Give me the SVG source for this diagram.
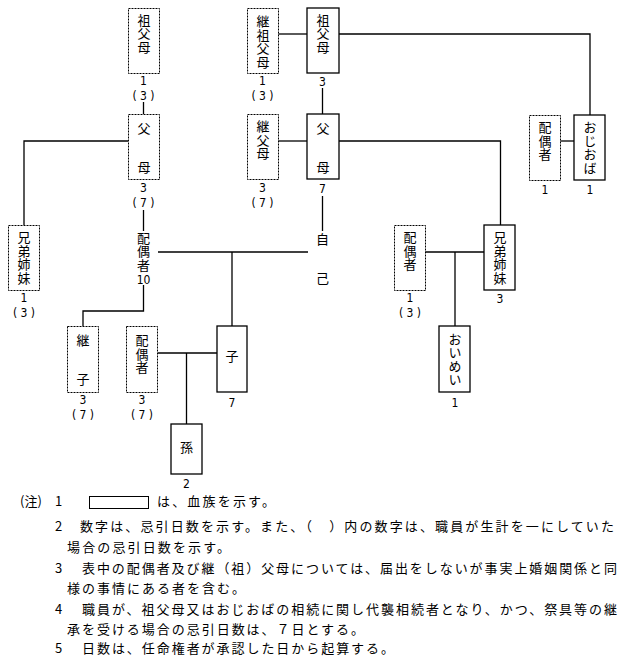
<svg xmlns="http://www.w3.org/2000/svg" width="624" height="662" viewBox="0 0 624 662">
<style>
text{font-family:"Noto Sans CJK JP","Noto Sans CJK SC",sans-serif;font-size:13px;fill:#000}
.v{writing-mode:vertical-rl;letter-spacing:0.5px}
.v0{writing-mode:vertical-rl;letter-spacing:0}
.c{text-anchor:middle}
.n{font-size:12px;font-family:"DejaVu Sans Condensed","Liberation Sans Narrow","Liberation Sans",sans-serif}
.box{fill:#fff;stroke:#000;stroke-width:1.3}
.dot{fill:#fff;stroke:#000;stroke-width:1;stroke-dasharray:2 1}
.ln{fill:none;stroke:#000;stroke-width:1.3}
</style>
<rect width="624" height="662" fill="#fff"/>
<g id="connectors">
<path class="ln" d="M143.5,102V114"/>
<path class="ln" d="M143.5,210V231"/>
<path class="ln" d="M128,141H24V225"/>
<path class="ln" d="M143.5,285V311H83V326"/>
<path class="ln" d="M158,252H308"/>
<path class="ln" d="M232,252V326"/>
<path class="ln" d="M322.5,196V231"/>
<path class="ln" d="M278,34H307"/>
<path class="ln" d="M322.5,88V114"/>
<path class="ln" d="M278,141H307"/>
<path class="ln" d="M339,141H500.5V225"/>
<path class="ln" d="M339,34H590V115"/>
<path class="ln" d="M560,141H574"/>
<path class="ln" d="M425,252H484"/>
<path class="ln" d="M455,252V326"/>
<path class="ln" d="M158,353H217"/>
<path class="ln" d="M186.5,353V424"/>
</g>
<g id="sofubo">
<rect class="dot" x="128.5" y="8.5" width="31" height="65"/>
<text class="v" x="144" y="13.5">祖父母</text>
<text class="c n" x="143.5" y="85">1</text>
<text class="c n" x="143.5" y="99.5">( 3 )</text>
</g>
<g id="fubo">
<rect class="dot" x="128.5" y="114.5" width="31" height="65"/>
<text class="v0" x="144" y="121.5">父　　母</text>
<text class="c n" x="143.5" y="192">3</text>
<text class="c n" x="143.5" y="206.5">( 7 )</text>
</g>
<g id="kyodai-left">
<rect class="dot" x="8.5" y="225.5" width="31" height="65"/>
<text class="v" x="24" y="231">兄弟姉妹</text>
<text class="c n" x="24" y="302">1</text>
<text class="c n" x="24" y="316.5">( 3 )</text>
</g>
<g id="haigusha">
<text class="v" x="143.5" y="231.5">配偶者</text>
<text class="c n" x="143.5" y="284">10</text>
</g>
<g id="keisofubo">
<rect class="dot" x="247.5" y="8.5" width="31" height="65"/>
<text class="v" x="263" y="15">継祖父母</text>
<text class="c n" x="262.5" y="85">1</text>
<text class="c n" x="262.5" y="99.5">( 3 )</text>
</g>
<g id="keifubo">
<rect class="dot" x="247.5" y="114.5" width="31" height="65"/>
<text class="v" x="263" y="120">継父母</text>
<text class="c n" x="262.5" y="192">3</text>
<text class="c n" x="262.5" y="206.5">( 7 )</text>
</g>
<g id="sofubo-blood">
<rect class="box" x="307" y="8" width="32" height="65"/>
<text class="v" x="323" y="13.5">祖父母</text>
<text class="c n" x="322.5" y="86">3</text>
</g>
<g id="fubo-blood">
<rect class="box" x="307" y="114" width="32" height="65"/>
<text class="v0" x="323" y="121.5">父　　母</text>
<text class="c n" x="322.5" y="193">7</text>
</g>
<g id="jiko">
<text class="v0" x="322.5" y="232.5">自　　己</text>
</g>
<g id="haigusha-oji">
<rect class="dot" x="529.5" y="115.5" width="31" height="65"/>
<text class="v" x="545" y="121">配偶者</text>
<text class="c n" x="545" y="194">1</text>
</g>
<g id="ojioba">
<rect class="box" x="574" y="115" width="31" height="65"/>
<text class="v" x="590" y="121">おじおば</text>
<text class="c n" x="590" y="194">1</text>
</g>
<g id="haigusha-kyodai">
<rect class="dot" x="394.5" y="225.5" width="31" height="65"/>
<text class="v" x="410" y="231">配偶者</text>
<text class="c n" x="410" y="302">1</text>
<text class="c n" x="410" y="316.5">( 3 )</text>
</g>
<g id="kyodai-right">
<rect class="box" x="484" y="225" width="31" height="65"/>
<text class="v" x="500" y="231">兄弟姉妹</text>
<text class="c n" x="500" y="303">3</text>
</g>
<g id="oimei">
<rect class="box" x="439" y="326" width="31" height="66"/>
<text class="v" x="455" y="332.5">おいめい</text>
<text class="c n" x="455" y="407">1</text>
</g>
<g id="keishi">
<rect class="dot" x="67.5" y="326.5" width="31" height="66"/>
<text class="v0" x="83" y="333.5">継　　子</text>
<text class="c n" x="83" y="404">3</text>
<text class="c n" x="83" y="418.5">( 7 )</text>
</g>
<g id="haigusha-ko">
<rect class="dot" x="126.5" y="326.5" width="31" height="66"/>
<text class="v" x="142" y="334">配偶者</text>
<text class="c n" x="142" y="404">3</text>
<text class="c n" x="142" y="418.5">( 7 )</text>
</g>
<g id="ko">
<rect class="box" x="217" y="326" width="30" height="66"/>
<text class="c" x="232" y="361">子</text>
<text class="c n" x="232" y="407">7</text>
</g>
<g id="mago">
<rect class="box" x="171" y="424" width="31" height="50"/>
<text class="c" x="186.5" y="452">孫</text>
<text class="c n" x="186.5" y="487.5">2</text>
</g>
<g id="notes">
<text x="20" y="506">(注)</text>
<text x="55" y="506">1</text>
<rect x="89.5" y="496.5" width="59" height="12" fill="none" stroke="#000" stroke-width="1"/>
<text x="157" y="506" textLength="118" lengthAdjust="spacing">は、血族を示す。</text>
<text x="55" y="531">2</text>
<text x="80" y="531" textLength="534" lengthAdjust="spacing">数字は、忌引日数を示す。また、（　）内の数字は、職員が生計を一にしていた</text>
<text x="67" y="552" textLength="163" lengthAdjust="spacing">場合の忌引日数を示す。</text>
<text x="55" y="573">3</text>
<text x="82" y="573" textLength="535" lengthAdjust="spacing">表中の配偶者及び継（祖）父母については、届出をしないが事実上婚姻関係と同</text>
<text x="67" y="593" textLength="178" lengthAdjust="spacing">様の事情にある者を含む。</text>
<text x="55" y="614">4</text>
<text x="82" y="614" textLength="535" lengthAdjust="spacing">職員が、祖父母又はおじおばの相続に関し代襲相続者となり、かつ、祭具等の継</text>
<text x="67" y="634" textLength="297" lengthAdjust="spacing">承を受ける場合の忌引日数は、７日とする。</text>
<text x="55" y="653">5</text>
<text x="82" y="653" textLength="312" lengthAdjust="spacing">日数は、任命権者が承認した日から起算する。</text>
</g>
</svg>
